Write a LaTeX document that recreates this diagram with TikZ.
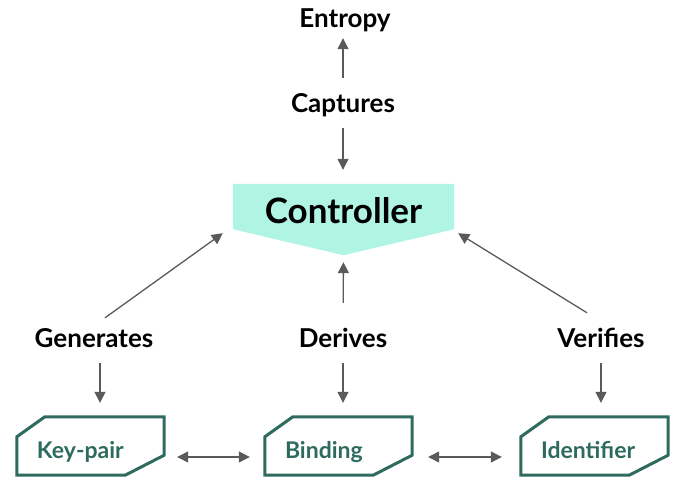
\documentclass[tikz,border=0pt]{standalone}
\usepackage{fontspec}
\setmainfont{Lato}
\usetikzlibrary{arrows.meta,positioning,backgrounds,calc}
\definecolor{ctrlfill}{RGB}{176,245,228}
\definecolor{boxteal}{RGB}{46,107,94}
\definecolor{arrowgray}{RGB}{90,90,90}

\begin{document}
\begin{tikzpicture}[
  x=1pt, y=-1pt,
  lbl/.style={font=\fontsize{26}{30}\selectfont\bfseries,inner sep=0pt,text height=18pt,text depth=5pt,anchor=base},
  ctrlbox/.style={minimum width=221pt,minimum height=45pt,inner sep=0pt,text height=33pt,text depth=0pt,font=\fontsize{35}{40}\selectfont\bfseries},
  entity/.style={minimum width=147pt,minimum height=58pt,inner xsep=20pt,text width=107pt,align=left,text height=26pt,text depth=2pt,text=boxteal,font=\fontsize{23}{27}\selectfont\bfseries},
  line/.style={-{Triangle[length=11pt,width=11pt]},line width=1.3pt,draw=arrowgray},
  both/.style={{Triangle[length=11pt,width=11pt]}-{Triangle[length=11pt,width=11pt]},line width=1.3pt,draw=arrowgray}
]
  \useasboundingbox (0,0) rectangle (673,477);

  \node[lbl] (entropy) at (345,27) {Entropy};
  \node[lbl] (captures) at (343,112) {Captures};
  \node[ctrlbox] (ctrl) at (343.5,206.5) {Controller};
  \coordinate (ctrltip) at ($(ctrl.south)+(0,26)$);
  \begin{scope}[on background layer]
    \fill[ctrlfill] (ctrl.north west) -- (ctrl.north east) -- (ctrl.south east) -- (ctrltip) -- (ctrl.south west) -- cycle;
  \end{scope}

  \node[lbl] (gen) at (94,347) {Generates};
  \node[lbl] (der) at (343,347) {Derives};
  \node[lbl] (ver) at (601,347) {Verifies};

  \node[entity] (key) at (90.5,446) {Key-pair};
  \node[entity] (bind) at (338.5,446) {Binding};
  \node[entity] (idf) at (594.5,446) {Identifier};
  \foreach \n in {key,bind,idf}
    \draw[boxteal,line width=3pt] ($(\n.north west)+(0,20)$) -- ($(\n.north west)+(28,0)$) -- (\n.north east)
      -- ($(\n.south east)+(0,-20)$) -- ($(\n.south east)+(-39,0)$) -- (\n.south west) -- cycle;

  \draw[line,shorten <=16pt,shorten >=6pt] (captures.north) -- ([xshift=-2pt]entropy.south);
  \draw[line,shorten <=11pt,shorten >=14pt] (captures.south) -- (captures.south |- ctrl.north);
  \draw[line,shorten <=26pt,shorten >=7pt] (der.north) -- (ctrltip);
  \draw[line] ([xshift=11pt,yshift=11pt]gen.north) -- ([xshift=-10pt,yshift=-4pt]ctrl.south west);
  \draw[line] ([xshift=-14pt,yshift=16pt]ver.north) -- ([xshift=4pt,yshift=-4pt]ctrl.south east);

  \draw[line,shorten <=11pt,shorten >=14pt] ([xshift=6pt]gen.south) -- ([xshift=9.5pt]key.north);
  \draw[line,shorten <=11pt,shorten >=14pt] (der.south) -- ([xshift=4.5pt]bind.north);
  \draw[line,shorten <=11pt,shorten >=14pt] (ver.south) -- ([xshift=6.5pt]idf.north);

  \draw[both,shorten <=13pt,shorten >=15pt] ([yshift=-11pt]key.east) -- ([yshift=-11pt]bind.west);
  \draw[both,shorten <=16pt,shorten >=19pt] ([yshift=-11pt]bind.east) -- ([yshift=-11pt]idf.west);
\end{tikzpicture}
\end{document}
